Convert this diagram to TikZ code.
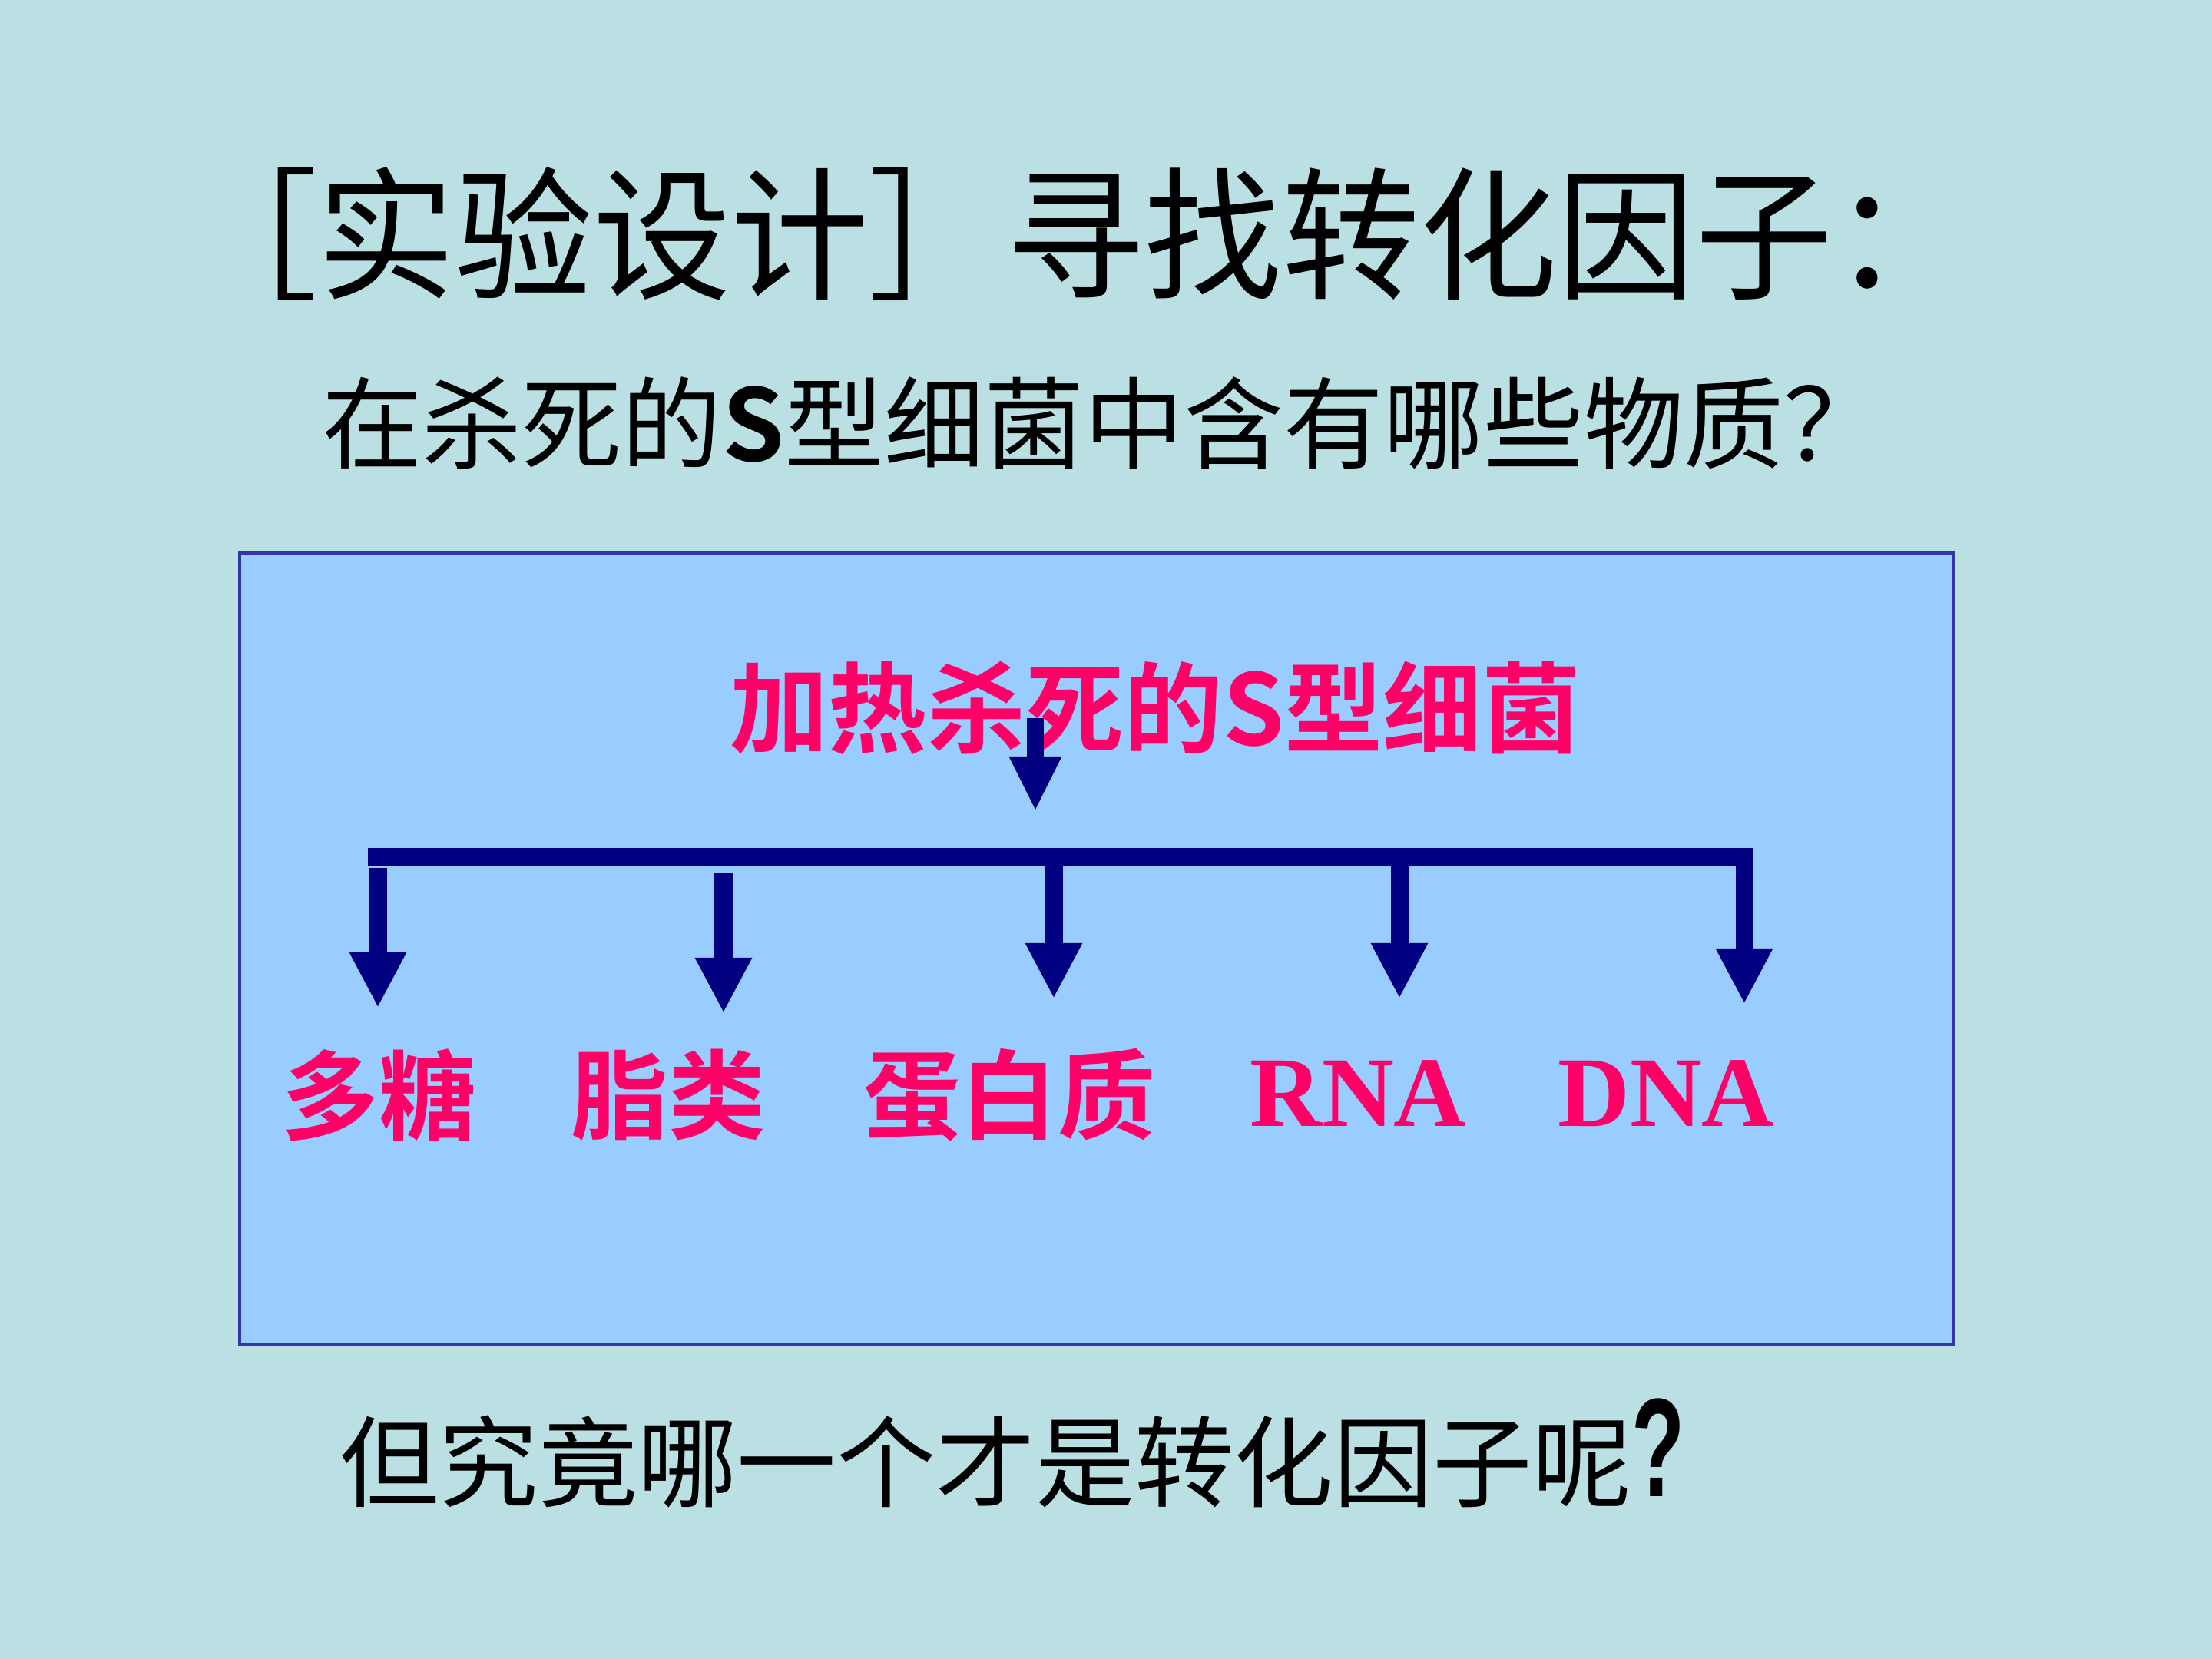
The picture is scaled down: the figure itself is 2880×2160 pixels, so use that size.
\documentclass[tikz,border=0pt]{standalone}
\usepackage{fontspec}
\usepackage{graphicx}
\usetikzlibrary{arrows.meta}
\newfontfamily\cjk{Noto Sans CJK SC}[BoldFont={Noto Sans CJK SC Bold}]
\newfontfamily\latserif{Liberation Serif}
\newfontfamily\latsans{Liberation Sans}
\definecolor{bgcol}{HTML}{BBE0E3}
\definecolor{boxcol}{HTML}{99CCFF}
\definecolor{boxline}{HTML}{3333AA}
\definecolor{navy}{HTML}{000080}
\definecolor{pinkred}{HTML}{FF0066}
\tikzset{
  blacktxt/.style={text=black, inner sep=0pt, anchor=center},
  redlabel/.style={text=pinkred, inner sep=0pt, anchor=center, font=\cjk\bfseries\fontsize{36}{40}\selectfont},
  downarrow/.style={draw=navy, line width=2.3mm, -{Triangle[width=6.9mm,length=7.2mm]}},
}
\begin{document}
\begin{tikzpicture}[x=0.01cm, y=-0.01cm]
\useasboundingbox (0,0) rectangle (2880,2160);
\fill[bgcol] (0,0) rectangle (2880,2160);
\draw[boxline, line width=0.35mm, fill=boxcol] (312,720) rectangle (2544,1750);

\node[blacktxt, font=\cjk\fontsize{51}{55}\selectfont] (title) at (1400,305)
  {\scalebox{1}[1.04]{［实验设计］寻找转化因子：}};
\node[blacktxt, font=\cjk\fontsize{37}{40}\selectfont] (sub) at (1436,551)
  {在杀死的\textbf{S}型细菌中含有哪些物质？};

\node[redlabel, font=\cjk\bfseries\fontsize{36.5}{40}\selectfont] (src) at (1504,922) {加热杀死的S型细菌};

\node[redlabel] (l1) at (493,1426) {多糖};
\node[redlabel] (l2) at (870,1426) {脂类};
\node[redlabel] (l3) at (1314,1426) {蛋白质};
\node[redlabel, font=\latserif\bfseries\fontsize{37}{40}\selectfont] (l4) at (1768,1424) {RNA};
\node[redlabel, font=\latserif\bfseries\fontsize{37}{40}\selectfont] (l5) at (2169,1424) {DNA};

\node[blacktxt, font=\cjk\fontsize{36.8}{40}\selectfont] (bottom) at (1318,1892)
  {但究竟哪一个才是转化因子呢\raisebox{0.03em}{\scalebox{0.62}[1]{\latsans\bfseries\fontsize{52}{52}\selectfont ?}}};

% connectors
\coordinate (s0) at (1348,935);
\coordinate (t0) at (1348,1056);
\draw[draw=navy, line width=2.2mm, -{Triangle[width=6.3mm,length=7.1mm]}] (s0) -- (t0);

\coordinate (barL) at (479,1116);
\coordinate (barR) at (2282,1116);
\draw[navy, line width=2.4mm] (barL) -- (barR);

\coordinate (a1) at (492,1130);  \coordinate (b1) at (492,1312);
\coordinate (a2) at (942,1136);  \coordinate (b2) at (942,1319);
\coordinate (a3) at (1372,1116); \coordinate (b3) at (1372,1300);
\coordinate (a4) at (1822,1116); \coordinate (b4) at (1822,1300);
\coordinate (a5) at (2271,1104); \coordinate (b5) at (2271,1307);
\draw[downarrow] (a1) -- (b1);
\draw[downarrow] (a2) -- (b2);
\draw[downarrow] (a3) -- (b3);
\draw[downarrow] (a4) -- (b4);
\draw[downarrow] (a5) -- (b5);
\end{tikzpicture}
\end{document}
